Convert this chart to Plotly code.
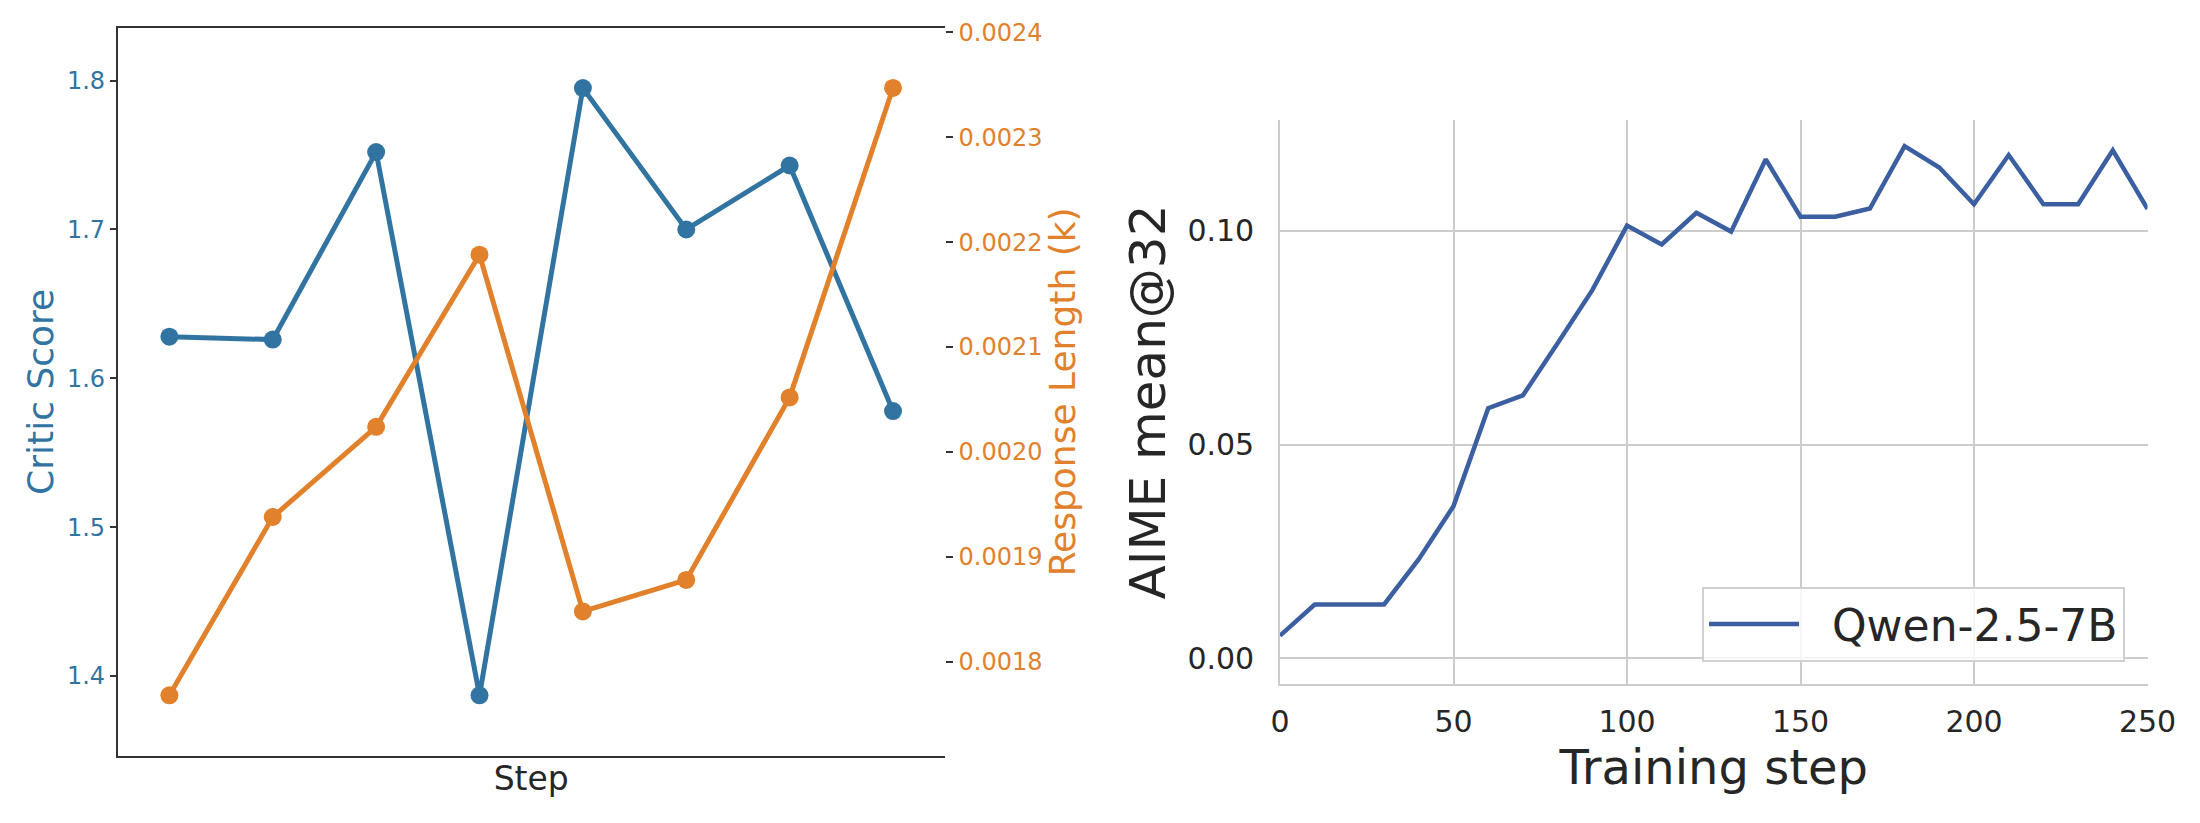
import plotly.graph_objects as go

# ---------------- data ----------------
step_idx = [0, 1, 2, 3, 4, 5, 6, 7]
critic_score = [1.628, 1.626, 1.752, 1.387, 1.795, 1.700, 1.743, 1.578]
response_len = [0.001768, 0.001938, 0.002024, 0.002188, 0.001848, 0.001878, 0.002052, 0.002347]

train_steps = [0, 10, 20, 30, 40, 50, 60, 70, 80, 90, 100, 110, 120, 130, 140,
               150, 160, 170, 180, 190, 200, 210, 220, 230, 240, 250]
aime_mean32 = [0.0053, 0.0126, 0.0126, 0.0126, 0.0232, 0.0356, 0.0585, 0.0615, 0.0737, 0.0861,
               0.1012, 0.0968, 0.1042, 0.0998, 0.1167, 0.1033, 0.1033, 0.1052, 0.1198, 0.1148,
               0.1062, 0.1177, 0.1062, 0.1062, 0.1188, 0.1051]

left_ticks = [1.4, 1.5, 1.6, 1.7, 1.8]
right_ticks = [0.0018, 0.0019, 0.0020, 0.0021, 0.0022, 0.0023, 0.0024]
aime_yticks = [0.00, 0.05, 0.10]
aime_xticks = [0, 50, 100, 150, 200, 250]

BLUE = "#3274a1"
ORANGE = "#e1812c"
LINE_BLUE = "#3c5fa1"
DARK = "#262626"
FONT = "DejaVu Sans"

W, H = 2200, 823
def px_x(p):
    return p / W
def px_y(p):
    return 1 - p / H

fig = go.Figure()

fig.add_trace(go.Scatter(
    x=step_idx, y=critic_score, mode="lines+markers",
    line=dict(color=BLUE, width=5), marker=dict(color=BLUE, size=18),
    xaxis="x", yaxis="y", showlegend=False, name="Critic Score"))
fig.add_trace(go.Scatter(
    x=step_idx, y=response_len, mode="lines+markers",
    line=dict(color=ORANGE, width=5), marker=dict(color=ORANGE, size=18),
    xaxis="x", yaxis="y2", showlegend=False, name="Response Length (k)"))
fig.add_trace(go.Scatter(
    x=train_steps, y=aime_mean32, mode="lines",
    line=dict(color=LINE_BLUE, width=4.5),
    xaxis="x2", yaxis="y3", showlegend=True, name="  Qwen-2.5-7B"))

fig.update_layout(
    width=W, height=H,
    margin=dict(l=0, r=0, t=0, b=0, autoexpand=False),
    paper_bgcolor="white", plot_bgcolor="white",
    font=dict(family=FONT, color=DARK),
    xaxis=dict(
        domain=[px_x(117.7), px_x(944.7)], range=[-0.5, 7.5], automargin=False,
        showticklabels=False, ticks="", showgrid=False, zeroline=False,
        showline=True, linecolor="#333333", linewidth=1.6, mirror=True,
        anchor="y",
        title=dict(text="Step", font=dict(size=33, color=DARK), standoff=10),
    ),
    yaxis=dict(
        domain=[px_y(756), px_y(27.7)], range=[1.3462, 1.8356], automargin=False,
        tickvals=left_ticks, ticktext=[f"{v:.1f}" for v in left_ticks],
        tickfont=dict(size=24, color=BLUE), ticks="outside", ticklen=6,
        tickcolor="#333333", tickwidth=1.6, ticklabelstandoff=0,
        showgrid=False, zeroline=False,
        showline=True, linecolor="#333333", linewidth=1.6,
        anchor="x",
        title=dict(text="Critic Score", font=dict(size=36, color=BLUE), standoff=2),
    ),
    yaxis2=dict(
        overlaying="y", side="right", anchor="x", automargin=False,
        range=[0.0017102, 0.0024044],
        tickvals=right_ticks, ticktext=[f"{v:.4f}" for v in right_ticks],
        tickfont=dict(size=24, color=ORANGE), ticks="outside", ticklen=7,
        tickcolor="#333333", tickwidth=1.6, ticklabelstandoff=1,
        showgrid=False, zeroline=False, showline=False,
        title=dict(text="Response Length (k)", font=dict(size=36, color=ORANGE), standoff=4),
    ),
    xaxis2=dict(
        domain=[px_x(1280), px_x(2147.5)], range=[0, 250], anchor="y3", automargin=False,
        tickvals=aime_xticks, ticktext=[str(v) for v in aime_xticks],
        tickfont=dict(size=30, color=DARK), ticks="", ticklabelstandoff=10,
        showgrid=True, gridcolor="#cccccc", gridwidth=1.6, zeroline=False,
        showline=True, linecolor="#cccccc", linewidth=1.6,
        title=dict(text="Training step", font=dict(size=48, color=DARK), standoff=5),
    ),
    yaxis3=dict(
        domain=[px_y(684), px_y(120)], range=[-0.0060, 0.1259], anchor="x2", automargin=False,
        tickvals=aime_yticks, ticktext=[f"{v:.2f}" for v in aime_yticks],
        tickfont=dict(size=30, color=DARK), ticks="", ticklabelstandoff=18,
        showgrid=True, gridcolor="#cccccc", gridwidth=1.6, zeroline=False,
        showline=True, linecolor="#cccccc", linewidth=1.6,
        title=dict(text="AIME mean@32", font=dict(size=50, color=DARK), standoff=6),
    ),
    legend=dict(
        x=px_x(2125), y=px_y(662), xanchor="right", yanchor="bottom",
        bgcolor="rgba(255,255,255,0.8)", bordercolor="#d0d0d0", borderwidth=2,
        font=dict(size=44, color=DARK), itemwidth=90,
    ),
)

fig.write_html("out.html", config={"displayModeBar": False},
               post_script="document.body.style.margin='0';document.body.style.overflow='hidden';")
